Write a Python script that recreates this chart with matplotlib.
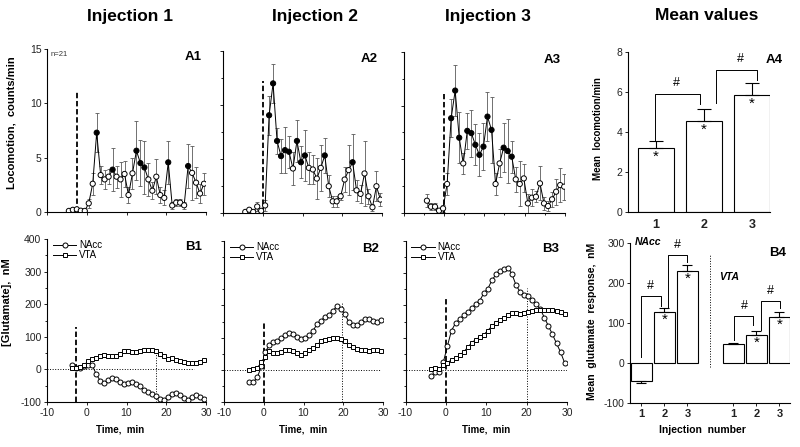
import numpy as np
import matplotlib
matplotlib.use("Agg")
import matplotlib.pyplot as plt
from matplotlib.ticker import MultipleLocator

plt.rcParams['font.family'] = ['Liberation Sans', 'DejaVu Sans']
plt.rcParams['axes.unicode_minus'] = False

W, H = 800, 447

# ---------------- A1-A3: locomotion (counts/min), 1-min bins
t_A1 = np.arange(35) - 4.5
t_A2 = np.arange(35) - 4.4
t_A3 = np.arange(35) - 4.2

loc_A1 = [0.1, 0.2, 0.25, 0.12, 0.1,
          0.8, 2.6, 7.3, 3.4, 3.0, 3.25, 3.9, 3.25, 3.0, 3.5, 1.56, 3.56, 5.64, 4.5, 4.1,
          3.0, 1.96, 3.25, 1.56, 1.3, 4.57, 0.6, 0.86, 0.86, 0.62, 4.23, 3.6, 2.7, 1.7, 2.6]
sem_A1 = [0.05, 0.05, 0.05, 0.05, 0.05,
          0.4, 1.0, 1.8, 0.8, 0.9, 0.7, 2.0, 1.0, 1.6, 1.2, 0.7, 1.4, 2.7, 2.1, 2.4,
          1.5, 0.8, 1.6, 0.7, 0.7, 2.0, 0.3, 0.3, 0.3, 0.3, 2.0, 2.5, 1.4, 0.9, 1.0]
sig_A1 = [7, 11, 17, 18, 19, 25, 30]

loc_A2 = [0.1, 0.3, 0.1, 0.6, 0.2,
          0.7, 9.05, 12.0, 6.67, 5.27, 5.82, 5.67, 4.12, 6.67, 4.7, 5.33, 4.18, 4.03, 3.19, 4.18,
          5.33, 2.48, 1.08, 1.08, 1.55, 3.1, 3.97, 4.7, 2.1, 1.77, 3.66, 1.55, 0.53, 2.48, 1.24]
sem_A2 = [0.05, 0.1, 0.05, 0.4, 0.1,
          0.5, 1.8, 1.8, 1.2, 1.6, 2.1, 1.5, 1.5, 1.95, 1.5, 2.4, 1.5, 1.3, 1.9, 2.1,
          1.6, 1.0, 0.5, 0.5, 0.3, 1.2, 2.3, 2.6, 1.0, 0.8, 3.0, 0.7, 0.3, 1.4, 0.6]
sig_A2 = [6, 7, 8, 9, 10, 11, 13, 14, 15, 20, 27]

loc_A3 = [1.12, 0.56, 0.56, 0.19, 0.4,
          2.68, 8.82, 11.4, 7.0, 4.6, 7.64, 7.43, 6.34, 5.4, 6.17, 8.97, 7.73, 2.68, 4.6, 6.07,
          5.76, 5.23, 3.11, 2.68, 3.2, 0.87, 1.4, 1.49, 2.74, 0.87, 0.62, 1.25, 1.96, 2.58, 2.43]
sem_A3 = [0.6, 0.3, 0.35, 0.1, 0.3,
          1.0, 1.8, 2.4, 2.4, 1.0, 1.7, 2.2, 1.9, 2.0, 2.2, 2.3, 3.1, 1.0, 1.3, 2.3,
          3.0, 1.5, 1.2, 2.1, 1.3, 0.9, 0.8, 0.5, 1.6, 0.6, 0.5, 0.7, 1.2, 1.6, 1.2]
sig_A3 = [6, 7, 8, 10, 11, 12, 13, 14, 15, 16, 19, 20, 21]

# ---------------- B1-B3: glutamate (nM)
t_B = np.arange(34) - 3.6

nacc_B1 = [12, 3, 5, 10, 15, 12, -15, -35, -42, -32, -25, -28, -38, -45, -42, -40, -45,
           -52, -62, -70, -76, -82, -90, -93, -85, -75, -72, -78, -88, -93, -85, -80, -85, -90]
vta_B1 = [3, 3, 8, 15, 25, 33, 36, 40, 43, 42, 40, 42, 48, 55, 56, 52, 52,
          55, 58, 58, 58, 55, 47, 40, 33, 35, 30, 25, 22, 20, 20, 20, 22, 30]

nacc_B2 = [-38, -38, -23, 11, 55, 78, 86, 89, 99, 109, 115, 110, 101, 96, 99, 107, 122,
           141, 153, 164, 171, 184, 197, 189, 174, 148, 140, 138, 148, 158, 158, 153, 148, 156]
vta_B2 = [0, 3, 5, 24, 41, 58, 52, 52, 55, 60, 60, 58, 52, 47, 52, 60, 67,
          76, 89, 93, 96, 99, 99, 96, 89, 76, 70, 65, 63, 60, 57, 60, 60, 58]

nacc_B3 = [-20, -7, -8, 25, 75, 122, 145, 157, 170, 180, 192, 204, 215, 238, 252, 278, 296,
           308, 312, 317, 296, 262, 242, 232, 230, 216, 204, 188, 162, 136, 110, 82, 55, 22]
vta_B3 = [3, 5, 3, 15, 22, 31, 36, 45, 55, 70, 84, 94, 101, 109, 122, 136, 146,
          155, 161, 169, 176, 176, 173, 177, 181, 183, 185, 185, 187, 187, 187, 184, 181, 174]

# ---------------- A4 / B4: means
inj_labels = ['1', '2', '3']
mean_loco = [3.2, 4.57, 5.85]
mean_loco_err = [0.35, 0.6, 0.6]

glu_nacc = [-45, 127, 230]
glu_nacc_err = [6, 10, 16]
glu_vta = [48, 71, 115]
glu_vta_err = [2, 8, 12]


def add_ax(l, t, r, b):
    ax = fig.add_axes([l / W, (H - b) / H, (r - l) / W, (b - t) / H])
    for s in ('top', 'right'):
        ax.spines[s].set_visible(False)
    for s in ('left', 'bottom'):
        ax.spines[s].set_linewidth(0.8)
    ax.tick_params(labelsize=7.5, length=2.5, width=0.7, colors='#222', pad=1.5)
    ax.tick_params(which='minor', length=1.5, width=0.6)
    return ax


def loco_panel(ax, t, v, e, sig, inj, top, label):
    ax.errorbar(t, v, yerr=e, fmt='none', ecolor='0.35', elinewidth=0.6,
                capsize=1.6, capthick=0.6, zorder=1)
    ax.plot(t, v, '-', color='k', lw=0.7, zorder=2)
    fc = ['k' if i in sig else 'white' for i in range(len(t))]
    ax.scatter(t, v, s=14, facecolors=fc, edgecolors='k', linewidths=0.7, zorder=3)
    ax.vlines(inj, 0, top, colors='k', linestyles=(0, (3, 1.5)), lw=1.3, zorder=2)
    ax.set_xlim(-10, 30)
    ax.set_ylim(0, 15)
    ax.set_xticks([-10, 0, 10, 20, 30])
    ax.set_xticklabels([])
    ax.set_yticks([0, 5, 10, 15])
    ax.text(0.92, 0.95, label, transform=ax.transAxes, fontsize=9.5,
            fontweight='bold', ha='center', va='center')


def glu_panel(ax, nacc, vta, sq, inj, dash_top, hline_end, vdot_x, vdot_top, label):
    ax.hlines(0, -10, hline_end, colors='k', linestyles=':', lw=0.7)
    ax.vlines(vdot_x, -100, vdot_top, colors='k', linestyles=':', lw=0.7)
    ax.vlines(inj, -100, dash_top, colors='k', linestyles=(0, (3, 1.5)), lw=1.3)
    ax.plot(t_B, nacc, '-o', color='k', lw=0.7, ms=3.6, mfc='white', mew=0.7, label='NAcc')
    ax.plot(t_B, vta, '-s', color='k', lw=0.7, ms=sq, mfc='white', mew=0.7, label='VTA')
    ax.set_xlim(-10, 30)
    ax.set_ylim(-100, 400)
    ax.set_xticks([-10, 0, 10, 20, 30])
    ax.set_yticks(range(-100, 401, 100))
    ax.yaxis.set_minor_locator(MultipleLocator(50))
    ax.legend(loc='upper left', bbox_to_anchor=(0.0, 1.03), frameon=False, fontsize=7,
              handlelength=2.4, labelspacing=0.05, handletextpad=0.3, borderaxespad=0.2)
    ax.text(0.92, 0.95, label, transform=ax.transAxes, fontsize=9.5,
            fontweight='bold', ha='center', va='center')
    ax.text(0.5, -0.17, 'Time,  min', transform=ax.transAxes, fontsize=7,
            fontweight='bold', ha='center', va='center')


def bracket(ax, x0, y0, x1, y1, ytop):
    ax.plot([x0, x0, x1, x1], [y0, ytop, ytop, y1], color='k', lw=0.7, clip_on=False)


fig = plt.figure(figsize=(8, 4.47), dpi=100)

# titles
for x, s in [(130, 'Injection 1'), (315, 'Injection 2'), (488, 'Injection 3'), (707, 'Mean values')]:
    fig.text(x / W, 1 - 16 / H, s, fontsize=12.5, fontweight='bold', ha='center', va='center')

# ---- row A
axA1 = add_ax(47, 49, 206, 212)
loco_panel(axA1, t_A1, loc_A1, sem_A1, sig_A1, -2.4, 11.0, 'A1')
axA1.text(0.02, 0.965, 'n=21', transform=axA1.transAxes, fontsize=5.5, color='#333',
          ha='left', va='center')
axA1.set_ylabel('Locomotion,  counts/min', fontsize=8, fontweight='bold')
axA1.yaxis.set_label_coords(-0.19, 0.55)

axA2 = add_ax(223, 51, 382, 213)
loco_panel(axA2, t_A2, loc_A2, sem_A2, sig_A2, 0, 12.2, 'A2')
axA2.set_yticklabels([])
axA2.yaxis.set_minor_locator(MultipleLocator(2.5))

axA3 = add_ax(403.5, 52, 565, 212.7)
loco_panel(axA3, t_A3, loc_A3, sem_A3, sig_A3, 0, 11.1, 'A3')
axA3.set_yticklabels([])
axA3.yaxis.set_minor_locator(MultipleLocator(2.5))
axA3.xaxis.set_minor_locator(MultipleLocator(5))

# ---- A4
axA4 = add_ax(628, 52, 770, 212)
xa = np.arange(1, 4)
axA4.bar(xa, mean_loco, width=0.75, color='white', edgecolor='k', lw=0.8, zorder=2)
axA4.errorbar(xa, mean_loco, yerr=[[0, 0, 0], mean_loco_err], fmt='none', ecolor='k',
              elinewidth=0.8, capsize=5, capthick=0.8, zorder=3)
for x, v in zip(xa, mean_loco):
    axA4.text(x, v - 0.45, '*', fontsize=11, ha='center', va='center')
axA4.set_xlim(0.417, 3.375)
axA4.set_ylim(0, 8)
axA4.set_yticks([0, 2, 4, 6, 8])
axA4.set_xticks(xa)
axA4.set_xticklabels(inj_labels, fontsize=9, fontweight='bold')
axA4.tick_params(axis='x', length=0, pad=5)
bracket(axA4, 0.98, 3.6, 1.92, 5.4, 5.9)
bracket(axA4, 2.24, 5.45, 3.1, 6.6, 7.1)
axA4.text(1.43, 6.47, '#', fontsize=9, ha='center', va='center')
axA4.text(2.76, 7.63, '#', fontsize=9, ha='center', va='center')
axA4.text(1.03, 0.95, 'A4', transform=axA4.transAxes, fontsize=9.5,
          fontweight='bold', ha='center', va='center')
axA4.set_ylabel('Mean  locomotion/min', fontsize=7, fontweight='bold')
axA4.yaxis.set_label_coords(-0.176, 0.52)

# ---- row B
axB1 = add_ax(47, 239, 206, 402)
glu_panel(axB1, nacc_B1, vta_B1, 3.3, -2.8, 130, 27, 17.3, 58, 'B1')
axB1.set_ylabel('[Glutamate],  nM', fontsize=8, fontweight='bold')
axB1.yaxis.set_label_coords(-0.22, 0.61)
axB1.texts[-1].set_x(0.46)

axB2 = add_ax(224, 241, 383, 402)
glu_panel(axB2, nacc_B2, vta_B2, 3.3, 0, 150, 29.5, 19.8, 212, 'B2')
axB2.set_yticklabels([])

axB3 = add_ax(405.5, 241, 567, 402)
glu_panel(axB3, nacc_B3, vta_B3, 2.4, 0, 225, 30, 20, 255, 'B3')
axB3.set_yticklabels([])
axB3.texts[0].set_x(0.9)

# ---- B4
axB4 = add_ax(630, 243, 790, 403)
xn = np.array([1, 2, 3])
xv = np.array([5, 6, 7])
axB4.bar(xn, glu_nacc, width=0.91, color='white', edgecolor='k', lw=0.8, zorder=2)
axB4.bar(xv, glu_vta, width=0.91, color='white', edgecolor='k', lw=0.8, zorder=2)
lo_n = [e if v < 0 else 0 for v, e in zip(glu_nacc, glu_nacc_err)]
hi_n = [e if v >= 0 else 0 for v, e in zip(glu_nacc, glu_nacc_err)]
axB4.errorbar(xn, glu_nacc, yerr=[lo_n, hi_n], fmt='none', ecolor='k',
              elinewidth=0.8, capsize=3.5, capthick=0.8, zorder=3)
axB4.errorbar(xv, glu_vta, yerr=[[0, 0, 0], glu_vta_err], fmt='none', ecolor='k',
              elinewidth=0.8, capsize=3.5, capthick=0.8, zorder=3)
for x, v in zip(list(xn[1:]) + list(xv[1:]), glu_nacc[1:] + glu_vta[1:]):
    axB4.text(x, v - 20, '*', fontsize=11, ha='center', va='center')
axB4.vlines(4, -10, 270, colors='k', linestyles=':', lw=0.7)
axB4.set_xlim(0.5, 7.46)
axB4.set_ylim(-100, 300)
axB4.set_yticks([-100, 0, 100, 200, 300])
axB4.set_xticks(list(xn) + list(xv))
axB4.set_xticklabels(inj_labels + inj_labels, fontsize=8, fontweight='bold')
bracket(axB4, 1.0, 15, 1.83, 142, 167)
bracket(axB4, 2.17, 138, 3.0, 252, 271)
bracket(axB4, 5.02, 57, 5.83, 94, 117)
bracket(axB4, 6.18, 82, 7.02, 138, 155)
for x, y in [(1.37, 192), (2.57, 296), (5.46, 142), (6.62, 180)]:
    axB4.text(x, y, '#', fontsize=9, ha='center', va='center')
axB4.text(1.28, 302, 'NAcc', fontsize=7.5, fontweight='bold', fontstyle='italic',
          ha='center', va='center')
axB4.text(4.8, 216, 'VTA', fontsize=7.5, fontweight='bold', fontstyle='italic',
          ha='center', va='center')
axB4.text(0.92, 0.94, 'B4', transform=axB4.transAxes, fontsize=9.5,
          fontweight='bold', ha='center', va='center')
axB4.set_ylabel('Mean  glutamate  response,  nM', fontsize=7.5, fontweight='bold')
axB4.yaxis.set_label_coords(-0.206, 0.51)
axB4.text(0.45, -0.17, 'Injection  number', transform=axB4.transAxes, fontsize=7.5,
          fontweight='bold', ha='center', va='center')

fig.savefig('out.png', dpi=100)
